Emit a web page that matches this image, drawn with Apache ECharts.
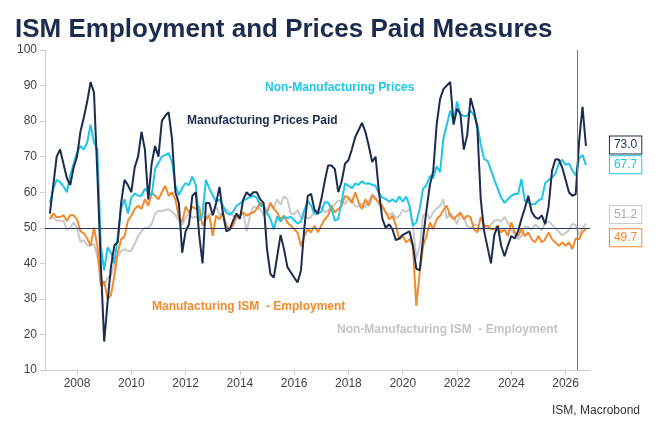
<!DOCTYPE html>
<html><head><meta charset="utf-8">
<script src="https://cdn.jsdelivr.net/npm/echarts@6/dist/echarts.min.js"></script>
<style>html,body{margin:0;padding:0;background:#fff}#c{width:660px;height:440px}</style>
</head><body><div id="c"></div>
<script>
const startYear = 2007, stepYears = 1/8;
const yearTicks = [2008,2010,2012,2014,2016,2018,2020,2022,2024,2026];
const mfgPrices = [54,62,70,72,68,64,62,67,70,77,81,85.5,91,88,65,40,18,29,39,45,46,57,63.5,62,60,67,70,77,72,58,68,73,70,80,81.5,82.5,75,60,57,43,49,51,59,60,48,40,57,57,53.5,57,61.5,54,49,49.5,52,54,52.5,58,60,59,60,60,
58,57,44,37,36,42,48,44,39,37.5,36,34.6,38,50,59,59.5,55,54,58,63,67.5,67.5,66.5,60,63,68,69,72,75.5,77.5,79.5,77,73,68.5,70,60,52.5,50,51,49.5,46.5,47,48,48.5,49,45,38.5,38,47,55,62,66,79,86.2,
89,90,91,79,83.5,82,72,76,86.5,83,78,58,49,44.5,40,48,50.5,45,42,45,47.7,47,49,52.5,55.5,59,54.5,53,52.5,53.5,51,56,66,69.3,69.2,67,63.5,60,59,59.5,74.5,84,73];
const nonMfgPrices = [57,61,63.5,62.8,61.7,60,64.7,68,71.2,73,72,74,79,74,72,45,38,44.5,43,40,47.5,55.5,58,54,58.5,59.7,59,59,61,60,59,66.5,68.2,70,70.5,71,68.5,62,59.2,61.2,62.6,62,64.4,62,52,54,63.5,61,59.2,57.2,58,56.2,54.3,53.7,54.5,56.2,56.8,57.7,58.1,58.6,59,58.4,
56.2,56,54.2,52.5,49.5,53.2,51.7,53.2,52.7,53.1,52.1,51.2,51.7,55,57.5,56.2,54,53.9,54.5,57.2,57.1,55.3,52,52.5,57.5,62.5,61.8,61.1,62.4,62.1,63.1,62.4,62.5,62.1,61.8,59.6,58.5,58.1,57.3,58,57.2,58.8,57.3,58.8,56.2,50.6,51.5,55.3,61,62,64.5,64,67.3,65.6,
75.2,79,83,79.5,85.5,82,81.4,81.5,83,81.6,79,73.5,69.3,68.8,66.3,63.5,61,58.5,57,58.1,59,59.5,59.5,63.7,57.5,57.1,56.6,56.7,57.7,58.1,62.6,63.4,64.1,65.3,68,69.2,67.7,68.1,66.1,64.7,69.5,70.5,67.7];
const mfgEmployment = [52.4,54,53,53,53.5,52,53.5,53.5,52.4,49,48.5,47,44.9,50,44.9,33.7,35,30,31,36.5,43,46.8,47.5,52,53.4,55.3,56.2,55.3,58,56.2,60,59,58,60,61.8,59,60,58,53,51.6,56,54.3,56,55.3,56,50.6,52.4,53.4,47.7,53.4,52.4,54.3,50.6,49.6,50.6,53.4,53.4,54.3,53.4,54,54.3,55.3,
57.1,56.2,54.3,57,55.3,54.3,52.4,53.4,51.5,50.6,49.6,48.7,44.9,47.7,49.6,48.7,50.6,48.7,50.6,52.4,53.4,56.2,54.3,55.3,56.2,59,58.5,57,60,57.1,55.3,58,56.2,59,58.1,57.1,56.2,54.3,52.4,53.4,50.6,46.8,47.7,45.9,46.8,44.9,28,37.4,44.9,47.7,51.5,49.6,52.4,53.4,
55,56.2,53.4,52.4,53.4,54.3,52.4,53.4,53,49.6,48.7,53,50.6,50.6,49.6,49.6,50.6,48.7,49.6,47.7,51.5,48.7,47.7,49.6,47.7,48.7,46.8,45.9,47.7,45.9,46.8,48.7,46.8,45.9,44.9,45.9,44.9,45.9,44,47,46.8,48.7,49.7];
const nonMfgEmployment = [53.4,53,52,52,52,49.5,50,51.5,50,46,46.5,45,45,45.5,42,36,33.5,36,36.5,40,42,43.5,44,43.5,43.5,45.5,47.7,49,50,50,51,54,54.8,54.7,55,55.2,54.5,53.6,52,50.8,53,54,52.8,53.2,52,53.2,52.5,54.1,53.4,56,53.6,54.3,55.3,54.3,53.4,52.4,53.5,54,49,53.4,56,55.5,
55.3,53.4,54.5,57,55.5,58,56.5,58.8,58,54,53.8,55,52.7,53.4,52.6,53,54.9,55,55.9,54.3,54.8,56.2,56.6,57.6,57.5,56.6,58.2,57.9,56,56,56.8,55.8,57.5,59.5,58.5,56.6,55.5,54.5,53.6,54.2,52.6,53.3,55.1,54.4,55.3,50.6,41.2,44.9,53.4,54.2,52.5,54.4,55.4,56.2,
58,52.6,54.2,53,51,54,53,50.5,49.8,50.9,50.7,49.3,50.3,49.9,50.9,52,52.3,51.7,53,51.5,49.2,48.2,46.8,47.7,50.4,50.2,49.5,50.9,50.2,49.3,51.5,51.8,50.9,49.9,48.9,47.9,48.5,49.4,51.1,50.7,48,49.7,51.2];
const seriesNames = ['Manufacturing Prices Paid','Non-Manufacturing Prices','Manufacturing ISM  - Employment','Non-Manufacturing ISM  - Employment'];
const colors = ['#1B2C4E','#1EC6E8','#F28A2E','#C9C9C9'];
const allValues = [mfgPrices, nonMfgPrices, mfgEmployment, nonMfgEmployment];
const toPairs = v => v.map((y,i)=>[startYear + i*stepYears, y]);
const labelShift = [-1, 0, 9, -9];

const chart = echarts.init(document.getElementById('c'));
const series = allValues.map((vals,i)=>({
  name: seriesNames[i], type:'line', data: toPairs(vals), showSymbol:false, symbol:'none',
  z: [4,3,2,1][i],
  lineStyle:{color:colors[i], width:2}, itemStyle:{color:colors[i]},
  endLabel:{show:true, formatter:p=>p.value[1].toFixed(1), color:i===3?'#aaa':colors[i], fontSize:12,
    backgroundColor:'#fff', borderColor:colors[i], borderWidth:1, padding:[3,4,2,4], offset:[16,labelShift[i]], fontFamily:'Liberation Sans'}
}));
series[0].markLine = {silent:true, symbol:'none', label:{show:false},
  data:[{yAxis:50, lineStyle:{color:'#2A3B5C', width:1, type:'solid'}},
        {xAxis:2026.42, lineStyle:{color:'#777', width:1, type:'solid'}}]};
chart.setOption({
  animation:false,
  textStyle:{fontFamily:'Liberation Sans'},
  title:{text:'ISM Employment and Prices Paid Measures', left:10, top:12,
    textStyle:{fontSize:26, fontWeight:'bold', color:'#1B2C4E', fontFamily:'Liberation Sans'}},
  grid:{left:45, right:70, top:50, bottom:70},
  xAxis:{type:'value', min:2006.82, max:2026.9,
    axisLine:{show:true, lineStyle:{color:'#ccc'}},
    axisTick:{show:true, customValues:yearTicks, lineStyle:{color:'#ccc'}},
    axisLabel:{customValues:yearTicks, color:'#444', fontSize:12, formatter:v=>String(Math.round(v))},
    splitLine:{show:false}},
  yAxis:{type:'value', min:10, max:100, interval:10,
    axisLine:{show:true, lineStyle:{color:'#ccc'}},
    axisTick:{show:true, lineStyle:{color:'#ccc'}},
    axisLabel:{color:'#444', fontSize:12}, splitLine:{show:false}},
  series: series,
  graphic:[
    {type:'text', left:265, top:82, style:{text:seriesNames[1], fill:colors[1], font:'bold 12px Liberation Sans'}},
    {type:'text', left:187, top:115, style:{text:seriesNames[0], fill:colors[0], font:'bold 12px Liberation Sans'}},
    {type:'text', left:152, top:301, style:{text:seriesNames[2], fill:colors[2], font:'bold 12px Liberation Sans'}},
    {type:'text', left:337, top:324, style:{text:seriesNames[3], fill:'#C4C4C4', font:'bold 12px Liberation Sans'}},
    {type:'text', right:20, top:405, style:{text:'ISM, Macrobond', fill:'#333', font:'12px Liberation Sans'}}
  ]
});
</script></body></html>
